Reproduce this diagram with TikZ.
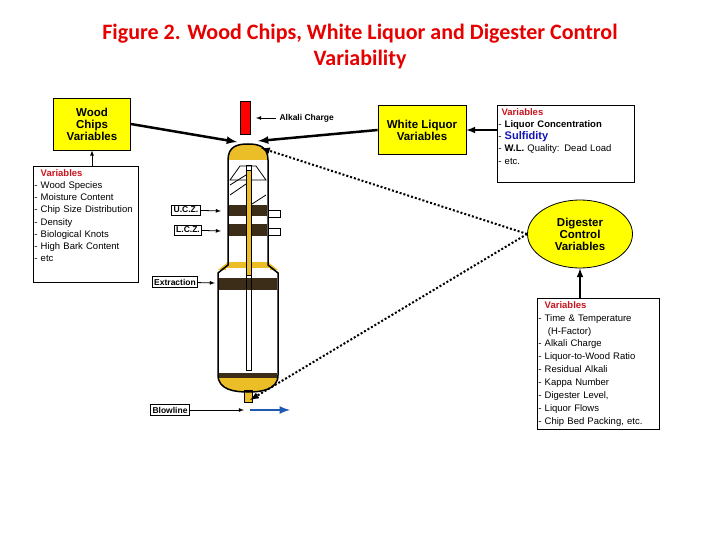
\documentclass[tikz,border=0pt]{standalone}
\usepackage{fontspec}
\setmainfont{Liberation Sans}
\newfontfamily\titlefont{Carlito}
\usetikzlibrary{shapes,arrows,positioning}
\definecolor{boxyellow}{RGB}{255,255,0}
\definecolor{titlered}{RGB}{230,0,0}
\definecolor{varred}{RGB}{200,20,30}
\definecolor{sulfblue}{RGB}{20,20,180}
\definecolor{pipeyellow}{RGB}{235,190,40}
\definecolor{screen}{RGB}{60,45,25}
\definecolor{blowblue}{RGB}{30,90,180}
\tikzstyle{block} = [rectangle, draw, thick, fill=boxyellow, font=\bfseries\fontsize{11.5}{12}\selectfont,
    align=center, inner sep=2pt]
\tikzstyle{varbox} = [rectangle, draw, thick, fill=white, font=\fontsize{9.5}{12.2}\selectfont,
    align=left, anchor=north west, inner xsep=1pt, inner ysep=3pt]
\tikzstyle{tag} = [rectangle, draw, thick, fill=white, font=\bfseries\fontsize{8.5}{10}\selectfont, inner sep=2pt]
\tikzstyle{line} = [draw, thick, -latex]
\tikzstyle{thickline} = [draw, line width=2.5pt, -latex]
\tikzstyle{dotline} = [draw, line width=2pt, dotted, -latex]

\begin{document}
\begin{tikzpicture}[x=1pt, y=-1pt]
  \useasboundingbox (0,0) rectangle (720,540);
  % title
  \node [font=\titlefont\bfseries\fontsize{22}{26}\selectfont, text=titlered, align=center] (title) at (360,47)
    {Figure 2. Wood Chips, White Liquor and Digester Control\\Variability};
  % boxes
  \node [block, minimum width=77pt, minimum height=52pt] (wood) at (92,124) {Wood\\Chips\\Variables};
  \node [varbox, text width=103pt] (woodvars) at (33,166) {%
    \textcolor{varred}{\bfseries\ \ Variables}\\- Wood Species\\- Moisture Content\\- Chip Size Distribution\\%
    - Density\\- Biological Knots\\- High Bark Content\\- etc\\[6pt]\mbox{}};
  \node [block, minimum width=88pt, minimum height=49pt] (liquor) at (422,130) {White Liquor\\Variables};
  \node [varbox, text width=135pt] (liquorvars) at (497,105) {%
    \textcolor{varred}{\bfseries\ Variables}\\- \textbf{Liquor Concentration}\\- \textcolor{sulfblue}{\bfseries\fontsize{11}{12}\selectfont Sulfidity}\\%
    - \textbf{W.L.} Quality: Dead Load\\- etc.\\[3pt]\mbox{}};
  \node [ellipse, draw, thick, fill=boxyellow, font=\bfseries\fontsize{11.5}{12}\selectfont, align=center,
    minimum width=105pt, minimum height=68pt, inner sep=0pt] (control) at (580,234) {Digester\\Control\\Variables};
  \node [varbox, text width=120pt, font=\fontsize{9.5}{12.9}\selectfont] (controlvars) at (537,298) {%
    \textcolor{varred}{\bfseries\ \ Variables}\\- Time \& Temperature\\\ \ \ (H-Factor)\\- Alkali Charge\\%
    - Liquor-to-Wood Ratio\\- Residual Alkali\\- Kappa Number\\- Digester Level,\\- Liquor Flows\\- Chip Bed Packing, etc.};
  % digester
  \fill [pipeyellow] (228,160) .. controls (228,146) and (238,144) .. (248,144)
    .. controls (258,144) and (268,146) .. (268,160) -- cycle;
  \fill [pipeyellow] (218,375) .. controls (218,390) and (235,392) .. (248,392)
    .. controls (261,392) and (278,390) .. (278,375) -- cycle;
  \fill [pipeyellow] (218,270) -- (228,262) -- (268,262) -- (278,270) -- cycle;
  \fill [white] (226,268) rectangle (270,280);
  \fill [screen] (229,205) rectangle (267,216);
  \fill [screen] (229,224) rectangle (267,236);
  \fill [screen] (219,278) rectangle (277,290);
  \fill [screen] (219,373) rectangle (277,378);
  \draw [thick] (268,210) rectangle (280,217);
  \draw [thick] (268,228) rectangle (280,235);
  \draw [thick] (240,166) -- (256,166) -- (266,180) -- (230,180) -- cycle;
  \draw [thick] (230,185) -- (246,175) (230,195) -- (246,184) (266,195) -- (252,204);
  \draw [thin] (246,165) rectangle (251,370);
  \fill [pipeyellow, draw=black] (246,170) rectangle (251,275);
  \fill [pipeyellow, draw=black] (244,390) rectangle (252,402);
  \draw [line width=1.5pt] (248,144) .. controls (238,144) and (228,146) .. (228,160)
    -- (228,265) -- (218,273) -- (218,375) .. controls (218,390) and (235,392) .. (248,392)
    .. controls (261,392) and (278,390) .. (278,375) -- (278,273) -- (268,265) -- (268,160)
    .. controls (268,146) and (258,144) .. cycle;
  \draw [line width=2.5pt, blowblue, -latex] (250,410) -- (290,410);
  % alkali charge
  \node [rectangle, draw=black, fill=red, minimum width=10pt, minimum height=33pt, inner sep=0pt] (alkali) at (245,118) {};
  \node [font=\bfseries\fontsize{8.5}{10}\selectfont, anchor=west] (alkalilabel) at (276,118) {Alkali Charge};
  \coordinate (alkaliend) at (256,118);
  \path [line] (alkalilabel.west) -- (alkaliend);
  % tags
  \node [tag] (ucz) at (186,210) {U.C.Z.};
  \node [tag] (lcz) at (188,230) {L.C.Z.};
  \node [tag] (extraction) at (175,282) {Extraction};
  \node [tag] (blowline) at (170,410) {Blowline};
  \coordinate (uczend) at (221,211);
  \coordinate (lczend) at (221,231);
  \coordinate (extend) at (215,283);
  \coordinate (blowend) at (244,410);
  \path [line] (ucz) -- (uczend);
  \path [line] (lcz) -- (lczend);
  \path [line] (extraction) -- (extend);
  \path [line] (blowline) -- (blowend);
  % connectors
  \path [line] (woodvars.north -| wood) -- (wood.south);
  \path [draw, line width=2pt, -latex] (liquorvars.west |- liquor) -- (liquor.east);
  \path [draw, line width=2pt, -latex] (controlvars.north -| control) -- (control.south);
  \coordinate (woodend) at (237,142);
  \coordinate (liquorend) at (258,141);
  \path [thickline] (wood.east) -- (woodend);
  \path [thickline] (liquor.west) -- (liquorend);
  \coordinate (topend) at (261,148);
  \coordinate (bottomend) at (250,400);
  \path [dotline] (control.west) -- (topend);
  \path [dotline] (control.west) -- (bottomend);
\end{tikzpicture}
\end{document}
